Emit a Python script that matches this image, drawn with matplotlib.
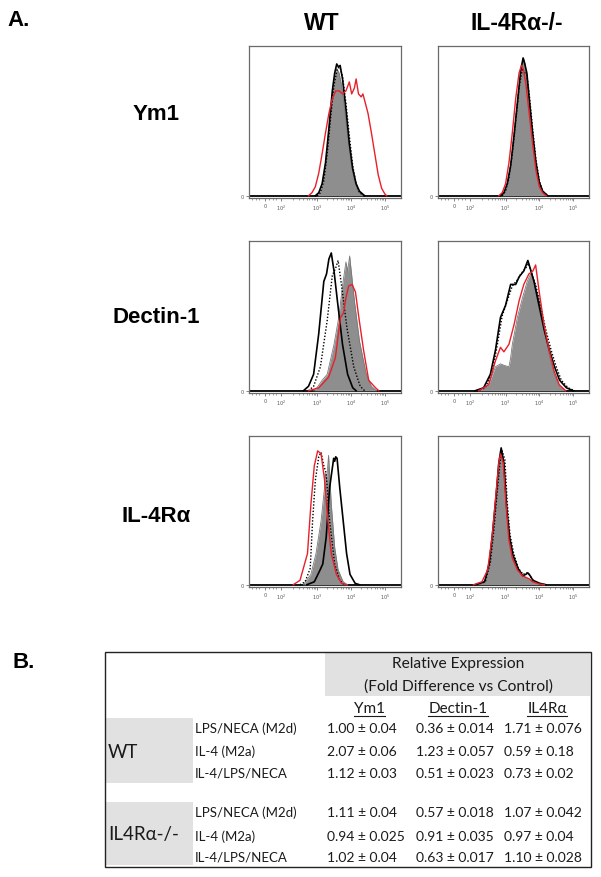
import matplotlib
matplotlib.use("Agg")
import matplotlib.pyplot as plt
from matplotlib.patches import Rectangle
import numpy as np

# ---------------- data: histogram curves (x in decade display units, y in % of panel height)
WT_YM1_GRAY = [(3.0,0),(3.1,3),(3.2,12),(3.3,32),(3.4,58),(3.5,78),(3.58,85),(3.65,82),(3.72,74),(3.8,60),(3.9,40),(4.0,22),(4.1,10),(4.2,3),(4.35,0)]
WT_YM1_SOLID = [(2.95,0),(3.05,2),(3.15,8),(3.25,22),(3.35,45),(3.45,70),(3.52,82),(3.58,88),(3.63,86),(3.68,87),(3.75,78),(3.85,58),(3.95,35),(4.05,18),(4.15,8),(4.25,3),(4.4,0)]
WT_YM1_DOT = [(3.0,0),(3.1,2),(3.2,10),(3.3,28),(3.4,52),(3.5,74),(3.6,85),(3.67,86),(3.75,80),(3.85,62),(3.95,40),(4.05,20),(4.15,8),(4.25,2),(4.4,0)]
WT_YM1_RED = [(2.75,0),(2.85,2),(2.95,6),(3.05,15),(3.15,28),(3.25,42),(3.35,55),(3.45,65),(3.55,70),(3.65,70),(3.75,68),(3.85,70),(3.95,76),(4.02,68),(4.1,72),(4.15,78),(4.22,68),(4.3,66),(4.35,68),(4.42,62),(4.5,55),(4.6,42),(4.7,28),(4.8,14),(4.9,5),(5.0,1),(5.05,0)]

KO_YM1_GRAY = [(2.85,0),(2.95,2),(3.05,8),(3.15,20),(3.25,40),(3.35,62),(3.45,82),(3.52,92),(3.56,90),(3.62,80),(3.7,62),(3.8,40),(3.9,20),(4.0,8),(4.1,2),(4.25,0)]
KO_YM1_SOLID = [(2.85,0),(2.95,2),(3.05,8),(3.15,20),(3.25,40),(3.35,62),(3.45,84),(3.52,92),(3.57,88),(3.63,82),(3.7,65),(3.8,42),(3.9,22),(4.0,9),(4.1,3),(4.25,0)]
KO_YM1_DOT = [(2.9,0),(3.0,3),(3.1,12),(3.2,28),(3.3,50),(3.4,72),(3.5,85),(3.57,82),(3.63,81),(3.7,68),(3.8,45),(3.9,24),(4.0,10),(4.1,3),(4.25,0)]
KO_YM1_RED = [(2.8,0),(2.9,2),(3.0,8),(3.1,22),(3.2,42),(3.3,65),(3.4,82),(3.47,87),(3.52,85),(3.6,75),(3.7,55),(3.8,35),(3.9,17),(4.0,6),(4.1,2),(4.2,0)]

WT_DEC_GRAY = [(2.9,0),(3.0,2),(3.15,7),(3.3,11),(3.5,31),(3.64,49),(3.75,70),(3.85,86),(3.9,80),(3.96,90),(4.1,60),(4.25,33),(4.45,11),(4.6,3),(4.75,0)]
WT_DEC_SOLID = [(2.6,0),(2.75,3),(2.9,11),(3.05,38),(3.2,73),(3.28,78),(3.35,88),(3.42,92),(3.5,80),(3.6,60),(3.75,31),(3.9,11),(4.05,2),(4.15,0)]
WT_DEC_DOT = [(2.75,0),(2.9,3),(3.1,16),(3.3,47),(3.45,77),(3.55,82),(3.62,87),(3.73,69),(3.88,42),(4.08,16),(4.27,3),(4.4,0)]
WT_DEC_RED = [(2.75,0),(3.05,2),(3.34,9),(3.54,22),(3.69,49),(3.78,52),(3.85,62),(3.93,70),(4.03,71),(4.13,66),(4.23,49),(4.37,27),(4.52,7),(4.72,2),(4.82,0)]

KO_DEC_GRAY = [(2.2,0),(2.5,4),(2.7,16),(2.85,18),(2.95,17),(3.1,16),(3.15,22),(3.2,31),(3.35,49),(3.5,62),(3.64,73),(3.74,78),(3.84,74),(3.99,60),(4.14,42),(4.29,24),(4.44,11),(4.59,3),(4.78,0)]
KO_DEC_SOLID = [(2.1,0),(2.35,2),(2.55,11),(2.7,27),(2.85,49),(3.0,57),(3.15,71),(3.3,71),(3.4,76),(3.54,80),(3.66,87),(3.74,81),(3.84,73),(4.0,56),(4.15,40),(4.3,27),(4.45,16),(4.6,7),(4.8,2),(5.0,0)]
KO_DEC_DOT = [(2.15,0),(2.4,2),(2.6,12),(2.75,30),(2.9,50),(3.05,60),(3.2,70),(3.35,74),(3.45,78),(3.6,82),(3.68,85),(3.78,78),(3.9,70),(4.05,55),(4.2,40),(4.35,27),(4.5,16),(4.65,7),(4.85,2),(5.05,0)]
KO_DEC_RED = [(2.2,0),(2.5,4),(2.7,20),(2.85,29),(2.95,26),(3.1,31),(3.25,44),(3.4,60),(3.54,71),(3.69,78),(3.81,80),(3.89,84),(3.99,67),(4.14,44),(4.29,27),(4.44,13),(4.59,4),(4.78,0)]

WT_IL4_GRAY = [(2.6,0),(2.82,7),(2.97,21),(3.12,43),(3.22,65),(3.24,75),(3.28,70),(3.34,87),(3.42,54),(3.52,25),(3.62,10),(3.77,2),(3.9,0)]
WT_IL4_SOLID = [(2.7,0),(2.92,2),(3.07,9),(3.17,14),(3.27,32),(3.37,65),(3.49,85),(3.52,83),(3.55,86),(3.59,85),(3.67,65),(3.77,43),(3.87,21),(3.97,7),(4.12,1),(4.25,0)]
WT_IL4_DOT = [(2.5,0),(2.65,2),(2.8,11),(2.87,43),(2.95,70),(3.05,86),(3.12,89),(3.2,80),(3.27,75),(3.37,43),(3.52,14),(3.67,3),(3.8,0)]
WT_IL4_RED = [(2.3,0),(2.5,3),(2.72,21),(2.82,54),(2.92,80),(3.02,90),(3.12,88),(3.22,71),(3.32,43),(3.42,21),(3.57,7),(3.72,1),(3.87,0)]

KO_IL4_GRAY = [(2.1,0),(2.38,2),(2.52,15),(2.62,34),(2.72,58),(2.8,80),(2.87,90),(2.95,80),(3.04,48),(3.12,30),(3.22,19),(3.37,10),(3.51,6),(3.66,4),(3.81,2),(4.01,0.5),(4.2,0)]
KO_IL4_SOLID = [(2.1,0),(2.38,2),(2.52,15),(2.62,36),(2.72,60),(2.8,82),(2.87,92),(2.95,82),(3.04,50),(3.12,32),(3.22,20),(3.37,11),(3.51,6),(3.6,7),(3.66,8),(3.73,6),(3.81,3),(4.01,1),(4.2,0)]
KO_IL4_DOT = [(2.15,0),(2.4,2),(2.55,15),(2.65,36),(2.75,62),(2.85,85),(2.9,90),(2.98,84),(3.05,55),(3.13,34),(3.24,21),(3.38,11),(3.52,7),(3.62,8),(3.68,8),(3.75,5),(3.85,2),(4.05,0.5),(4.2,0)]
KO_IL4_RED = [(2.05,0),(2.3,2),(2.47,10),(2.6,32),(2.7,57),(2.8,82),(2.85,88),(2.93,82),(3.02,52),(3.1,30),(3.2,18),(3.35,10),(3.5,6),(3.6,5),(3.7,4),(3.8,2),(4.0,0.5),(4.15,0)]

TICK_POS = [1.47, 1.94, 3, 4, 5]
TICK_LABELS = ["0", r"$10^2$", r"$10^3$", r"$10^4$", r"$10^5$"]

COL_TITLES = ["WT", "IL-4R\u03b1-/-"]
ROW_TITLES = ["Ym1", "Dectin-1", "IL-4R\u03b1"]

# ---------------- data: table
GENOTYPES = ["WT", "IL4R\u03b1-/-"]
CONDITIONS = ["LPS/NECA (M2d)", "IL-4 (M2a)", "IL-4/LPS/NECA"]
MARKERS = ["Ym1", "Dectin-1", "IL4R\u03b1"]
WT_VALUES = [["1.00 \u00b1 0.04", "0.36 \u00b1 0.014", "1.71 \u00b1 0.076"],
             ["2.07 \u00b1 0.06", "1.23 \u00b1 0.057", "0.59 \u00b1 0.18"],
             ["1.12 \u00b1 0.03", "0.51 \u00b1 0.023", "0.73 \u00b1 0.02"]]
KO_VALUES = [["1.11 \u00b1 0.04", "0.57 \u00b1 0.018", "1.07 \u00b1 0.042"],
             ["0.94 \u00b1 0.025", "0.91 \u00b1 0.035", "0.97 \u00b1 0.04"],
             ["1.02 \u00b1 0.04", "0.63 \u00b1 0.017", "1.10 \u00b1 0.028"]]

W, H = 601, 878
fig = plt.figure(figsize=(W / 100, H / 100), dpi=100)
fig.patch.set_facecolor("white")

def ax_at(x0, y0, x1, y1):
    return fig.add_axes([x0 / W, 1 - y1 / H, (x1 - x0) / W, (y1 - y0) / H])

XLIM = (1.0, 5.47)

def draw_panel(ax, gray, solid, dotted, red):
    gx, gy = zip(*gray)
    ax.axhline(0, color="black", lw=1.3, zorder=1)
    ax.fill_between(gx, gy, 0, color="#8e8e8e", lw=0, zorder=2)
    ax.plot(gx, gy, color="#7a7a7a", lw=0.6, zorder=3)
    sx, sy = zip(*solid)
    ax.plot(sx, sy, color="black", lw=1.2, zorder=4)
    dx, dy = zip(*dotted)
    ax.plot(dx, dy, color="black", lw=1.0, ls=(0, (1, 1.3)), zorder=4)
    rx, ry = zip(*red)
    ax.plot(rx, ry, color="#e8202a", lw=1.0, zorder=5)
    ax.set_xlim(*XLIM)
    ax.set_ylim(-1.5, 100)
    ax.set_xticks(TICK_POS)
    ax.set_xticklabels(TICK_LABELS, fontsize=3.5, color="#555555")
    minor = [1.1, 1.2, 1.3, 1.6, 1.7, 1.8]
    for n in (2, 3, 4):
        minor += list(np.log10(np.arange(2, 10) * 10 ** n))
    ax.set_xticks([m for m in minor if m < XLIM[1]], minor=True)
    ax.set_yticks([0])
    ax.set_yticklabels(["0"], fontsize=3.5, color="#555555")
    ax.tick_params(axis="both", which="major", length=2, width=0.5, color="#555555", pad=1.5)
    ax.tick_params(axis="x", which="minor", length=1.2, width=0.4, color="#555555")
    for s in ax.spines.values():
        s.set_color("#6a6a6a")
        s.set_linewidth(0.9)

cols = [(249, 401), (438, 589)]
rows = [(47, 199), (242, 394), (437, 588)]
panels = [
    [(WT_YM1_GRAY, WT_YM1_SOLID, WT_YM1_DOT, WT_YM1_RED), (KO_YM1_GRAY, KO_YM1_SOLID, KO_YM1_DOT, KO_YM1_RED)],
    [(WT_DEC_GRAY, WT_DEC_SOLID, WT_DEC_DOT, WT_DEC_RED), (KO_DEC_GRAY, KO_DEC_SOLID, KO_DEC_DOT, KO_DEC_RED)],
    [(WT_IL4_GRAY, WT_IL4_SOLID, WT_IL4_DOT, WT_IL4_RED), (KO_IL4_GRAY, KO_IL4_SOLID, KO_IL4_DOT, KO_IL4_RED)],
]
for ri, (y0, y1) in enumerate(rows):
    for ci, (x0, x1) in enumerate(cols):
        ax = ax_at(x0, y0, x1, y1)
        draw_panel(ax, *panels[ri][ci])

# overlay for text and table in pixel coords
ov = fig.add_axes([0, 0, 1, 1], zorder=10)
ov.set_xlim(0, W)
ov.set_ylim(H, 0)
ov.axis("off")
ov.patch.set_alpha(0)

BOLD = dict(family="Liberation Sans", fontweight="bold")
ov.text(7, 20, "A.", fontsize=16, va="center", ha="left", **BOLD)
ov.text(322, 23, COL_TITLES[0], fontsize=16.5, va="center", ha="center", **BOLD)
ov.text(517, 23, COL_TITLES[1], fontsize=16.5, va="center", ha="center", **BOLD)
for lab, yy in zip(ROW_TITLES, [115, 318, 517]):
    ov.text(156, yy, lab, fontsize=16, va="center", ha="center", **BOLD)
ov.text(12, 663, "B.", fontsize=16, va="center", ha="left", **BOLD)

# table
TF = "Lato"
TC = "#1a1a1a"
GREY = "#e1e1e1"
ov.add_patch(Rectangle((325, 653), 265, 44, facecolor=GREY, edgecolor="none"))
ov.add_patch(Rectangle((105, 719), 88, 65, facecolor=GREY, edgecolor="none"))
ov.add_patch(Rectangle((105, 803), 88, 63, facecolor=GREY, edgecolor="none"))
ov.add_patch(Rectangle((105, 653), 486, 215, facecolor="none", edgecolor="#222222", lw=1.0))

ov.text(458, 664, "Relative Expression", fontsize=11.2, family=TF, ha="center", va="center", color=TC)
ov.text(458, 687, "(Fold Difference vs Control)", fontsize=11.2, family=TF, ha="center", va="center", color=TC)

header_x = [369, 458, 547]
hdr_texts = []
for m, hx in zip(MARKERS, header_x):
    hdr_texts.append(ov.text(hx, 709, m, fontsize=11, family=TF, ha="center", va="center", color=TC))

ov.text(108, 753, GENOTYPES[0], fontsize=13.5, family=TF, ha="left", va="center", color=TC)
ov.text(108, 835, GENOTYPES[1], fontsize=13.5, family=TF, ha="left", va="center", color=TC)

val_x = [327, 416, 504]
wt_y = [729, 752, 774]
ko_y = [813, 837, 858]
for block, ys in ((WT_VALUES, wt_y), (KO_VALUES, ko_y)):
    for cond, vals, yy in zip(CONDITIONS, block, ys):
        ov.text(195, yy, cond, fontsize=9.5, family=TF, ha="left", va="center", color=TC)
        for v, vx in zip(vals, val_x):
            ov.text(vx, yy, v, fontsize=10, family=TF, ha="left", va="center", color=TC)

# underline headers
fig.canvas.draw()
r = fig.canvas.get_renderer()
inv = ov.transData.inverted()
for t in hdr_texts:
    bb = t.get_window_extent(renderer=r)
    (xa, ya), (xb, yb) = inv.transform([(bb.x0, bb.y0), (bb.x1, bb.y1)])
    ov.plot([xa, xb], [ya + 0.5, ya + 0.5], color=TC, lw=0.8)

fig.savefig("out.png", dpi=100)
